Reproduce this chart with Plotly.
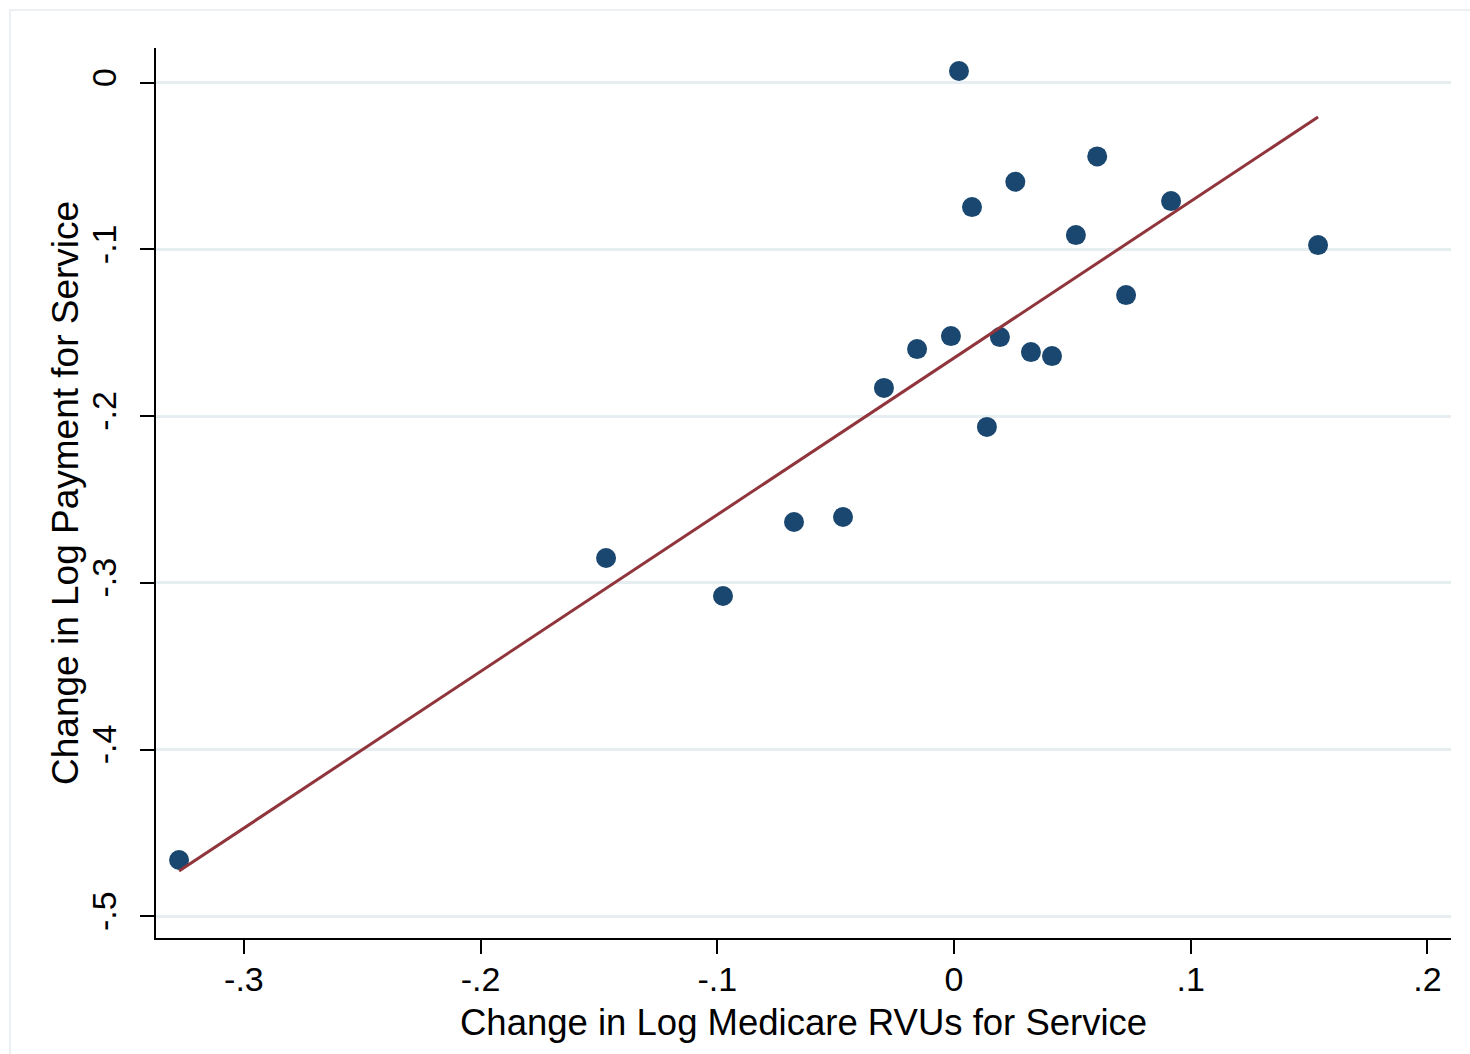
import plotly.graph_objects as go

# Binned scatter: change in log RVUs vs change in log payment, per service
rvu_change = [-0.3274, -0.1470, -0.0976, -0.0676, -0.0469, -0.0296, -0.0156, -0.0013,
              0.0021, 0.0076, 0.0139, 0.0194, 0.0259, 0.0325, 0.0414, 0.0515,
              0.0605, 0.0727, 0.0917, 0.1538]
payment_change = [-0.4663, -0.2851, -0.3079, -0.2635, -0.2605, -0.1831, -0.1598, -0.1520,
                  0.0070, -0.0746, -0.2065, -0.1526, -0.0594, -0.1616, -0.1640, -0.0914,
                  -0.0442, -0.1274, -0.0710, -0.0974]

# Fitted regression line (endpoints)
fit_x = [-0.3274, 0.1538]
fit_y = [-0.4729, -0.0206]

x_ticks = [-0.3, -0.2, -0.1, 0, 0.1, 0.2]
x_tick_text = ["-.3", "-.2", "-.1", "0", ".1", ".2"]
y_ticks = [0, -0.1, -0.2, -0.3, -0.4, -0.5]
y_tick_text = ["0", "-.1", "-.2", "-.3", "-.4", "-.5"]

x_title = "Change in Log Medicare RVUs for Service"
y_title = "Change in Log Payment for Service"

FONT = "Liberation Sans, Arial, Helvetica, sans-serif"

fig = go.Figure()
fig.add_trace(go.Scatter(
    x=rvu_change, y=payment_change, mode="markers",
    marker=dict(size=20, color="#1a476f", line=dict(width=0)),
    showlegend=False, hoverinfo="x+y",
))
fig.add_trace(go.Scatter(
    x=fit_x, y=fit_y, mode="lines",
    line=dict(color="#90353b", width=3),
    showlegend=False, hoverinfo="skip",
))

fig.update_layout(
    width=1470, height=1054,
    margin=dict(l=156, r=19, t=48, b=116),
    paper_bgcolor="white", plot_bgcolor="white",
    font=dict(family=FONT, color="black"),
    xaxis=dict(
        range=[-0.33714, 0.20997],
        tickmode="array", tickvals=x_ticks, ticktext=x_tick_text,
        ticks="outside", ticklen=14, tickwidth=2, tickcolor="black",
        tickfont=dict(size=34, family=FONT, color="black"),
        ticklabelstandoff=-4,
        showline=True, linecolor="black", linewidth=2,
        showgrid=False, zeroline=False,
    ),
    yaxis=dict(
        range=[-0.51308, 0.02082],
        tickmode="array", tickvals=y_ticks, ticktext=y_tick_text,
        tickangle=-90,
        ticks="outside", ticklen=14, tickwidth=2, tickcolor="black",
        tickfont=dict(size=34, family=FONT, color="black"),
        ticklabelstandoff=10,
        showline=True, linecolor="black", linewidth=2,
        showgrid=True, gridcolor="#e6eef1", gridwidth=2.5, zeroline=False,
    ),
    annotations=[
        dict(text=x_title, xref="paper", yref="paper", x=0.5, y=-0.0955,
             xanchor="center", yanchor="middle", showarrow=False,
             font=dict(size=36.5, family=FONT, color="black")),
        dict(text=y_title, xref="paper", yref="paper", x=-0.0703, y=0.5,
             xanchor="center", yanchor="middle", showarrow=False, textangle=-90,
             font=dict(size=37, family=FONT, color="black")),
    ],
    shapes=[dict(
        type="rect", xref="paper", yref="paper",
        x0=-0.11274, y0=-0.1483, x1=1.03, y1=1.0427,
        line=dict(color="#e6ecee", width=1.5), layer="below",
    )],
)

fig.write_html("out.html")
